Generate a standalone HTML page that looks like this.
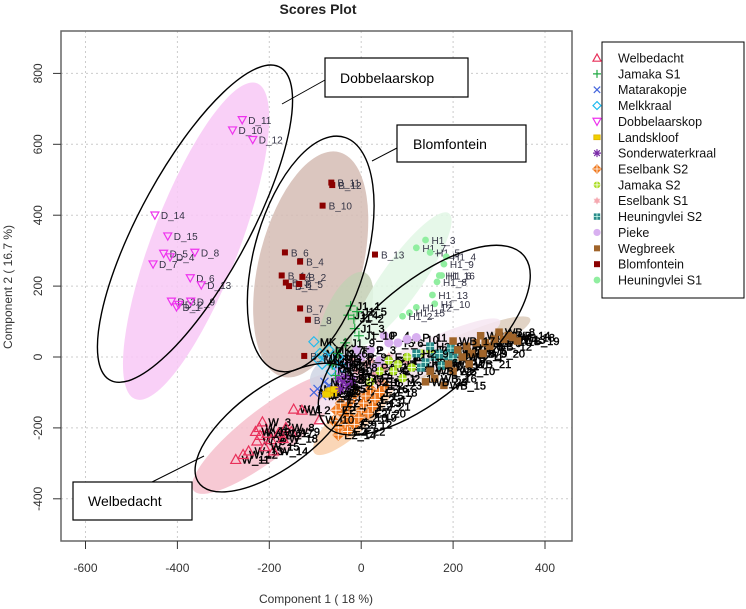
<!DOCTYPE html>
<html><head><meta charset="utf-8"><style>
body{margin:0;background:#fff;}
svg{display:block;font-family:"Liberation Sans",sans-serif;}
</style></head><body>
<svg id="chart" width="746" height="609" viewBox="0 0 746 609" xmlns="http://www.w3.org/2000/svg">
<rect width="746" height="609" fill="#fff"/>
<text x="318" y="14" text-anchor="middle" font-size="14" font-weight="bold" fill="#222">Scores Plot</text>
<g id="grid"></g>
<g id="fills" transform="scale(1.0714,1.165)"></g>
<g id="marks"></g>
<g id="outlines" transform="scale(1.0714,1.165)"></g>
<rect x="61" y="31" width="511" height="510" fill="none" stroke="#666" stroke-width="1.5"/>
<g id="axes"></g>
<text x="316" y="603" text-anchor="middle" font-size="12" fill="#333">Component 1 ( 18 %)</text>
<text x="0" y="0" transform="translate(12,287) rotate(-90)" text-anchor="middle" font-size="12" fill="#333">Component 2 ( 16.7 %)</text>
<g>
<line x1="282" y1="104" x2="325" y2="80" stroke="#000" stroke-width="1"/>
<rect x="325" y="58" width="143" height="39" fill="#fff" stroke="#000" stroke-width="1.2"/>
<text x="340" y="83" font-size="14" fill="#000">Dobbelaarskop</text></g>
<g>
<line x1="372" y1="161" x2="397" y2="148" stroke="#000" stroke-width="1"/>
<rect x="397" y="125" width="129" height="37" fill="#fff" stroke="#000" stroke-width="1.2"/>
<text x="413" y="149" font-size="14" fill="#000">Blomfontein</text></g>
<g>
<line x1="152" y1="482" x2="204" y2="456" stroke="#000" stroke-width="1"/>
<rect x="73" y="482" width="119" height="38" fill="#fff" stroke="#000" stroke-width="1.2"/>
<text x="88" y="506" font-size="14" fill="#000">Welbedacht</text></g>
<g id="legend">
<rect x="602" y="42" width="142" height="256" fill="#fff" stroke="#000" stroke-width="1"/>
</g>
</svg>
<script>
const xTicks=[-600,-400,-200,0,200,400];
const yTicks=[-400,-200,0,200,400,600,800];
const groupNames=["Welbedacht","Jamaka S1","Matarakopje","Melkkraal","Dobbelaarskop","Landskloof","Sonderwaterkraal","Eselbank S2","Jamaka S2","Eselbank S1","Heuningvlei S2","Pieke","Wegbreek","Blomfontein","Heuningvlei S1"];
const groupColors=["#e8305a","#22aa44","#4466dd","#22bbee","#ee33ee","#f0d000","#7a2aa8","#f07a20","#aadd22","#f4a0a8","#2a8a8a","#d8b0f0","#a0642a","#8b0000","#90eea0"];
const groupShapes=["triup","plus","cross","diamond","tridown","square","star","crossdiamond","circleplus","hexagram","squareplus","circlex","squarefill","squarefill","circlefill"];
// Welbedacht
const wX=[-147,-129,-215,-222,-220,-227,-196,-164,-152,-91,-273,-257,-245,-191,-210,-205,-180,-170,-230];
const wY=[-147,-150,-183,-199,-221,-237,-233,-199,-210,-177,-289,-275,-265,-265,-253,-215,-215,-230,-210];
// Jamaka S1
const j1X=[-23,-16,-14,-28,-9,-51,-56,-63,-35,-5];
const j1Y=[144,108,80,118,128,10,-52,-22,40,60];
// Matarakopje
const mX=[-103,-95,-85,-70,-60,-80];
const mY=[-100,-90,-110,-80,-95,-70];
// Melkkraal
const kX=[-103,-90,-75,-60,-50,-85,-70,-40,-95,-65];
const kY=[43,10,-5,-20,0,-20,20,-30,-5,-40];
// Dobbelaarskop
const dX=[-259,-280,-236,-449,-421,-430,-416,-362,-453,-372,-348,-413,-402,-397,-371];
const dY=[669,640,613,400,341,292,282,295,262,223,203,157,141,148,157];
const dLab=["D_11","D_10","D_12","D_14","D_15","D_5","D_4","D_8","D_7","D_6","D_13","D_3","D_1","D_2","D_9"];
// Landskloof
const lX=[-70,-62,-66,-75,-58];
const lY=[-98,-102,-95,-105,-92];
// Sonderwaterkraal
const sX=[-40,-30,-50,-20,-45,-35];
const sY=[-70,-80,-60,-65,-90,-55];
// Eselbank S2
const e2X=[-60,-50,-40,-30,-20,-10,0,-45,-35,-25,-55,-15,5,-50,10,20,30,40,-5,15,25,-30,50];
const e2Y=[-180,-200,-160,-140,-120,-100,-150,-130,-190,-170,-150,-190,-130,-220,-110,-90,-120,-100,-170,-160,-140,-210,-80];
// Jamaka S2
const j2X=[60,40,80,130,150,20,100,70,110,170,90];
const j2Y=[-10,-40,-20,10,20,-70,0,-40,-30,0,-60];
// Eselbank S1
const e1X=[-10,10,30,50,0,20,-20,60,80,100,40];
const e1Y=[-40,-20,-50,-30,-60,-10,-10,0,-20,-10,-70];
// Heuningvlei S2
const h2X=[160,170,180,190,200,140,210,150,120,130,175,195];
const h2Y=[0,10,-10,5,-5,-15,15,30,10,-30,-25,25];
// Pieke
const pX=[-30,-10,20,50,60,80,40,-50,0,100,120,30,-20];
const pY=[-20,20,20,60,40,40,-10,-40,0,50,55,-30,-60];
// Wegbreek
const wbX=[190,210,230,250,260,270,290,300,240,200,220,280,310,320,180,160,200,330,340,265,235,150,140];
const wbY=[-20,20,30,40,60,40,50,70,10,-40,0,30,50,60,-80,-60,45,55,45,10,-20,-40,-70];
// Blomfontein
const bX=[-65,-63,-84,-166,-133,-173,-164,-157,-135,-128,-133,-116,-124,30];
const bY=[492,485,427,295,269,230,210,200,206,226,137,105,3,289];
const bLab=["B_11","B_12","B_10","B_6","B_4","B_14","B_3","B_1","B_5","B_2","B_7","B_8","B_9","B_13"];
// Heuningvlei S1
const h1X=[140,120,150,185,180,170,165,175,155,160,120,105,90];
const h1Y=[330,308,295,283,262,230,212,230,175,150,140,125,115];
const h1Lab=["H1_3","H1_7","H1_5","H1_4","H1_9","H1_16","H1_8","H1_6","H1_13","H1_10","H1_12","H1_15","H1_2"];
const groupX=[wX,j1X,mX,kX,dX,lX,sX,e2X,j2X,e1X,h2X,pX,wbX,bX,h1X];
const groupY=[wY,j1Y,mY,kY,dY,lY,sY,e2Y,j2Y,e1Y,h2Y,pY,wbY,bY,h1Y];
const groupPrefix=["W_","J1_","M_","MK_","D_","L_","S_","E2_","J2_","E1_","H2_","P_","WB_","B_","H1_"];
const groupLabels={4:dLab,13:bLab,14:h1Lab};

const NS="http://www.w3.org/2000/svg";
const sx=v=>361.2+0.4595*v;
const sy=v=>357-0.3545*v;
function mk(tag,attrs,parent){const e=document.createElementNS(NS,tag);for(const k in attrs)e.setAttribute(k,attrs[k]);parent.appendChild(e);return e;}

const grid=document.getElementById('grid');
const axes=document.getElementById('axes');
xTicks.forEach(t=>{
  const g=mk('line',{x1:sx(t),x2:sx(t),y1:31,y2:541,stroke:'#ccc','stroke-dasharray':'2,3'},grid);
  
  
  const tk=mk('line',{x1:sx(t),x2:sx(t),y1:541,y2:549,stroke:'#333'},axes);
  
  
  const tl=mk('text',{x:sx(t),y:572,'text-anchor':'middle','font-size':'12',fill:'#333'},axes);
  
  
  tl.textContent=t;
});
yTicks.forEach(t=>{
  const g=mk('line',{x1:61,x2:572,y1:sy(t),y2:sy(t),stroke:'#ccc','stroke-dasharray':'2,3'},grid);
  
  
  const tk=mk('line',{x1:53,x2:61,y1:sy(t),y2:sy(t),stroke:'#333'},axes);
  
  
  const tl=mk('text',{x:0,y:0,transform:`translate(42,${sy(t)}) rotate(-90)`,'text-anchor':'middle','font-size':'12',fill:'#333'},axes);
  
  
  tl.textContent=t;
});

const fillCx=[183,290,322,375,430,250,330,380,312];
const fillCy=[207,227,275,240,300,372,358,314,318];
const fillRx=[147,100,45,72,70,85,48,95,25];
const fillRy=[40,48,20,18,12,22,14,14,14];
const fillAng=[-67,-74,-65,-52,-22,-35,-40,-24,-30];
const fillCol=["#f8c8f6","#d5bcb4","#c3cfb4","#e2f7e5","#dccbbb","#f6c0cc","#f9cfaa","#f6e6f2","#cfd5e4"];
const fillNames=["dobbelaarskop-ellipse","blomfontein-ellipse","jamaka-s1-ellipse","heuningvlei-s1-ellipse","wegbreek-ellipse","welbedacht-ellipse","eselbank-s2-ellipse","pieke-ellipse","melkkraal-ellipse"];
const fills=document.getElementById('fills');
fillCx.forEach((c,i)=>{
  const e=mk('ellipse',{cx:c,cy:fillCy[i],rx:fillRx[i],ry:fillRy[i],transform:`rotate(${fillAng[i]} ${c} ${fillCy[i]})`,fill:fillCol[i],'fill-opacity':0.85},fills);
  
  
});
const outCx=[182,290,396,256];
const outCy=[192,218,292,367];
const outRx=[156,105,118,85];
const outRy=[50,52,50,36];
const outAng=[-59,-72,-37,-33];
const outNames=["dobbelaarskop-outline","blomfontein-outline","cluster-outline","welbedacht-outline"];
const outl=document.getElementById('outlines');
outCx.forEach((c,i)=>{
  const e=mk('ellipse',{cx:c,cy:outCy[i],rx:outRx[i],ry:outRy[i],transform:`rotate(${outAng[i]} ${c} ${outCy[i]})`,fill:'none',stroke:'#000','stroke-width':1.4,'vector-effect':'non-scaling-stroke'},outl);
  
  
});

function drawMarker(parent,shape,x,y,col,r){
  const g=mk('g',{},parent);
  const sw=1.2;
  if(shape==='triup'){mk('polygon',{points:`${x},${y-r} ${x-r},${y+r*0.8} ${x+r},${y+r*0.8}`,fill:'none',stroke:col,'stroke-width':sw},g);}
  else if(shape==='tridown'){mk('polygon',{points:`${x},${y+r} ${x-r},${y-r*0.8} ${x+r},${y-r*0.8}`,fill:'none',stroke:col,'stroke-width':sw},g);}
  else if(shape==='plus'){mk('path',{d:`M${x-r} ${y}H${x+r}M${x} ${y-r}V${y+r}`,stroke:col,'stroke-width':sw},g);}
  else if(shape==='cross'){mk('path',{d:`M${x-r*.8} ${y-r*.8}L${x+r*.8} ${y+r*.8}M${x-r*.8} ${y+r*.8}L${x+r*.8} ${y-r*.8}`,stroke:col,'stroke-width':sw},g);}
  else if(shape==='diamond'){mk('polygon',{points:`${x},${y-r} ${x+r},${y} ${x},${y+r} ${x-r},${y}`,fill:'none',stroke:col,'stroke-width':sw},g);}
  else if(shape==='square'){mk('rect',{x:x-r*.8,y:y-r*.6,width:r*1.6,height:r*1.2,fill:col,stroke:'#e0b000','stroke-width':0.8},g);}
  else if(shape==='star'){mk('path',{d:`M${x-r} ${y}H${x+r}M${x} ${y-r}V${y+r}M${x-r*.7} ${y-r*.7}L${x+r*.7} ${y+r*.7}M${x-r*.7} ${y+r*.7}L${x+r*.7} ${y-r*.7}`,stroke:col,'stroke-width':sw},g);}
  else if(shape==='crossdiamond'){mk('polygon',{points:`${x},${y-r} ${x+r},${y} ${x},${y+r} ${x-r},${y}`,fill:col,stroke:col,'stroke-width':sw},g);mk('path',{d:`M${x-r} ${y}H${x+r}M${x} ${y-r}V${y+r}`,stroke:'#fff','stroke-width':0.8},g);}
  else if(shape==='circleplus'){mk('circle',{cx:x,cy:y,r:r*.85,fill:col},g);mk('path',{d:`M${x-r*.85} ${y}H${x+r*.85}M${x} ${y-r*.85}V${y+r*.85}`,stroke:'#fff','stroke-width':0.8},g);}
  else if(shape==='hexagram'){mk('polygon',{points:`${x},${y-r} ${x+r*.87},${y+r*.5} ${x-r*.87},${y+r*.5}`,fill:col,'fill-opacity':0.7},g);mk('polygon',{points:`${x},${y+r} ${x+r*.87},${y-r*.5} ${x-r*.87},${y-r*.5}`,fill:col,'fill-opacity':0.7},g);}
  else if(shape==='squareplus'){mk('rect',{x:x-r*.8,y:y-r*.8,width:r*1.6,height:r*1.6,fill:col},g);mk('path',{d:`M${x-r*.8} ${y}H${x+r*.8}M${x} ${y-r*.8}V${y+r*.8}`,stroke:'#cfe','stroke-width':0.8},g);}
  else if(shape==='circlex'){mk('circle',{cx:x,cy:y,r:r*.9,fill:col},g);}
  else if(shape==='squarefill'){mk('rect',{x:x-r*.75,y:y-r*.75,width:r*1.5,height:r*1.5,fill:col},g);}
  else if(shape==='circlefill'){mk('circle',{cx:x,cy:y,r:r*.85,fill:col},g);}
  return g;
}

const marks=document.getElementById('marks');
const order=[7,9,11,8,10,12,3,2,5,6,1,0,14,13,4];
order.forEach(gi=>{
  const xs=groupX[gi], ys=groupY[gi];
  const labs=groupLabels[gi];
  const named=(gi===4||gi===13||gi===14);
  xs.forEach((v,i)=>{
    const px=sx(v), py=sy(ys[i]);
    const m=drawMarker(marks,groupShapes[gi],px,py,groupColors[gi],named?4:5);
    
    
    const attrs={x:px+6,y:py+4,'font-size':named?'10':'11',fill:named?'#334':'#000'};
    if(!named){attrs.stroke='#000';attrs['stroke-width']='0.4';}
    const t=mk('text',attrs,marks);
    
    
    t.textContent=labs?labs[i]:groupPrefix[gi]+(i+1);
  });
});

const legend=document.getElementById('legend');
groupNames.forEach((n,i)=>{
  const y=58+i*15.86;
  const m=drawMarker(legend,groupShapes[i],597,y,groupColors[i],4);
  
  
  const t=mk('text',{x:618,y:y+4.5,'font-size':'12.5',fill:'#111'},legend);
  
  
  t.textContent=n;
});
</script>
</body></html>
